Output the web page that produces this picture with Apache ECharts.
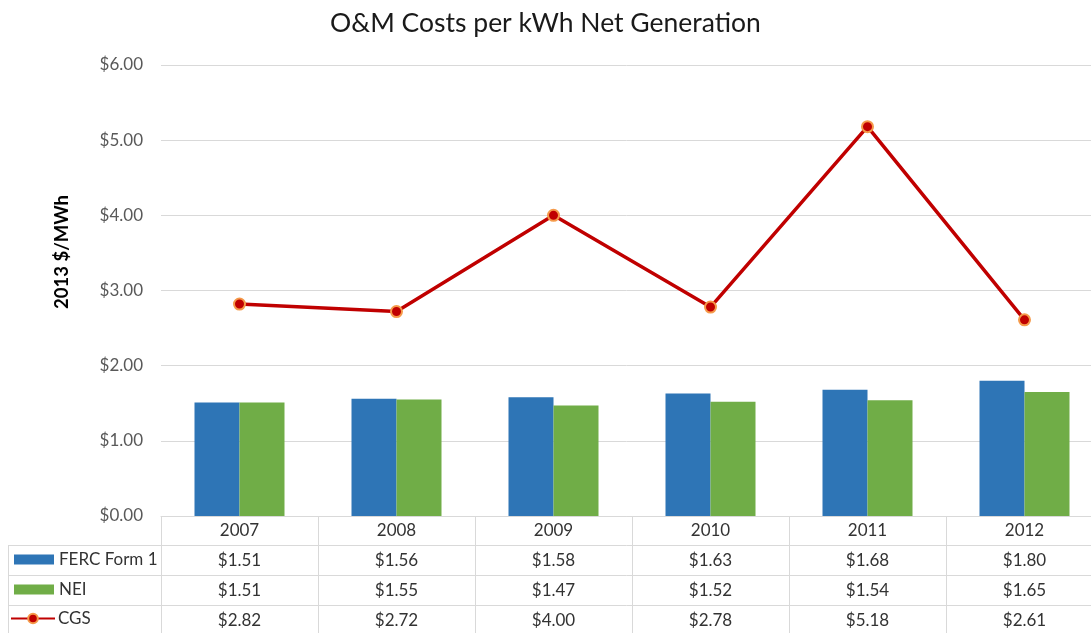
<!DOCTYPE html>
<html>
<head>
<meta charset="utf-8">
<script src="https://cdn.jsdelivr.net/npm/echarts@6/dist/echarts.min.js"></script>
<style>html,body{margin:0;padding:0;background:#fff;}#c{width:1091px;height:633px;}</style>
</head>
<body>
<div id="c"></div>
<script>
const years = ['2007','2008','2009','2010','2011','2012'];
const ferc = [1.51, 1.56, 1.58, 1.63, 1.68, 1.80];
const nei = [1.51, 1.55, 1.47, 1.52, 1.54, 1.65];
const cgs = [2.82, 2.72, 4.00, 2.78, 5.18, 2.61];
const yTicks = [0, 1, 2, 3, 4, 5, 6];

const FONT = 'Lato';
const LINE = '#d9d9d9';
const TXT = '#333333';
const money = v => '$' + v.toFixed(2);

function rowAxis(values, offset, margin, tickLen) {
  return {
    type: 'category', gridIndex: 0, position: 'bottom', offset: offset,
    data: values.map(money),
    axisLine: { show: true, lineStyle: { color: LINE, width: 1 } },
    axisTick: { show: true, interval: 0, length: tickLen, lineStyle: { color: LINE } },
    axisLabel: { show: true, interval: 0, margin: margin, fontFamily: FONT, fontSize: 17, color: TXT },
    splitLine: { show: false }
  };
}

const chart = echarts.init(document.getElementById('c'));
chart.setOption({
  animation: false,
  backgroundColor: '#fff',
  title: {
    text: 'O&M Costs per kWh Net Generation', left: 'center', top: 5,
    textStyle: { fontFamily: FONT, fontSize: 26.5, fontWeight: 'normal', color: '#1a1a1a' }
  },
  grid: { left: 161, width: 942, top: 65, bottom: 117, containLabel: false, outerBoundsMode: 'none' },
  legend: [
    { data: [{ name: 'FERC Form 1', icon: 'rect' }], left: 14, top: 551, padding: 0, itemWidth: 40, itemHeight: 10,
      textStyle: { fontFamily: FONT, fontSize: 17, color: TXT } },
    { data: [{ name: 'NEI', icon: 'rect' }], left: 14, top: 581, padding: 0, itemWidth: 40, itemHeight: 10,
      textStyle: { fontFamily: FONT, fontSize: 17, color: TXT } },
    { data: ['CGS'], left: 10, top: 610, padding: 0, itemWidth: 44, itemHeight: 12, itemGap: 0,
      textStyle: { fontFamily: FONT, fontSize: 17, color: TXT, padding: [0, 0, 0, -2] } }
  ],
  xAxis: [
    {
      type: 'category', gridIndex: 0, position: 'bottom', data: years,
      axisLine: { show: true, lineStyle: { color: LINE, width: 1 } },
      axisTick: { show: true, interval: 0, length: 29, lineStyle: { color: LINE } },
      axisLabel: { interval: 0, margin: 6, fontFamily: FONT, fontSize: 17, color: TXT }
    },
    rowAxis(ferc, 29, 7, 30),
    rowAxis(nei, 59, 7, 30),
    rowAxis(cgs, 89, 7, 30)
  ],
  yAxis: {
    type: 'value', min: 0, max: 6, interval: 1,
    axisLine: { show: false }, axisTick: { show: false },
    splitLine: { lineStyle: { color: LINE, width: 1 } },
    axisLabel: { margin: 18, fontFamily: FONT, fontSize: 17, color: '#595959',
      formatter: v => yTicks.includes(v) ? money(v) : '' }
  },
  graphic: [
    { type: 'line', shape: { x1: 8, y1: 545.5, x2: 161, y2: 545.5 }, style: { stroke: LINE, lineWidth: 1 } },
    { type: 'line', shape: { x1: 8, y1: 575.5, x2: 161, y2: 575.5 }, style: { stroke: LINE, lineWidth: 1 } },
    { type: 'line', shape: { x1: 8, y1: 605.5, x2: 161, y2: 605.5 }, style: { stroke: LINE, lineWidth: 1 } },
    { type: 'line', shape: { x1: 8.5, y1: 545, x2: 8.5, y2: 640 }, style: { stroke: LINE, lineWidth: 1 } },
    { type: 'text', x: 62, y: 252, rotation: Math.PI / 2,
      style: { text: '2013 $/MWh', fontFamily: FONT, fontSize: 18.5, fontWeight: 'bold', fill: '#000', align: 'center', verticalAlign: 'middle' } }
  ],
  series: [
    { name: 'FERC Form 1', type: 'bar', xAxisIndex: 0, data: ferc, barWidth: 45, barGap: '0%',
      itemStyle: { color: '#2e75b6' } },
    { name: 'NEI', type: 'bar', xAxisIndex: 0, data: nei, barWidth: 45, barGap: '0%',
      itemStyle: { color: '#70ad47' } },
    { name: 'CGS', type: 'line', xAxisIndex: 0, data: cgs, symbol: 'circle', symbolSize: 11,
      lineStyle: { color: '#c00000', width: 3.5 },
      itemStyle: { color: '#c00000', borderColor: '#f59a4a', borderWidth: 2 } }
  ]
});
</script>
</body>
</html>
